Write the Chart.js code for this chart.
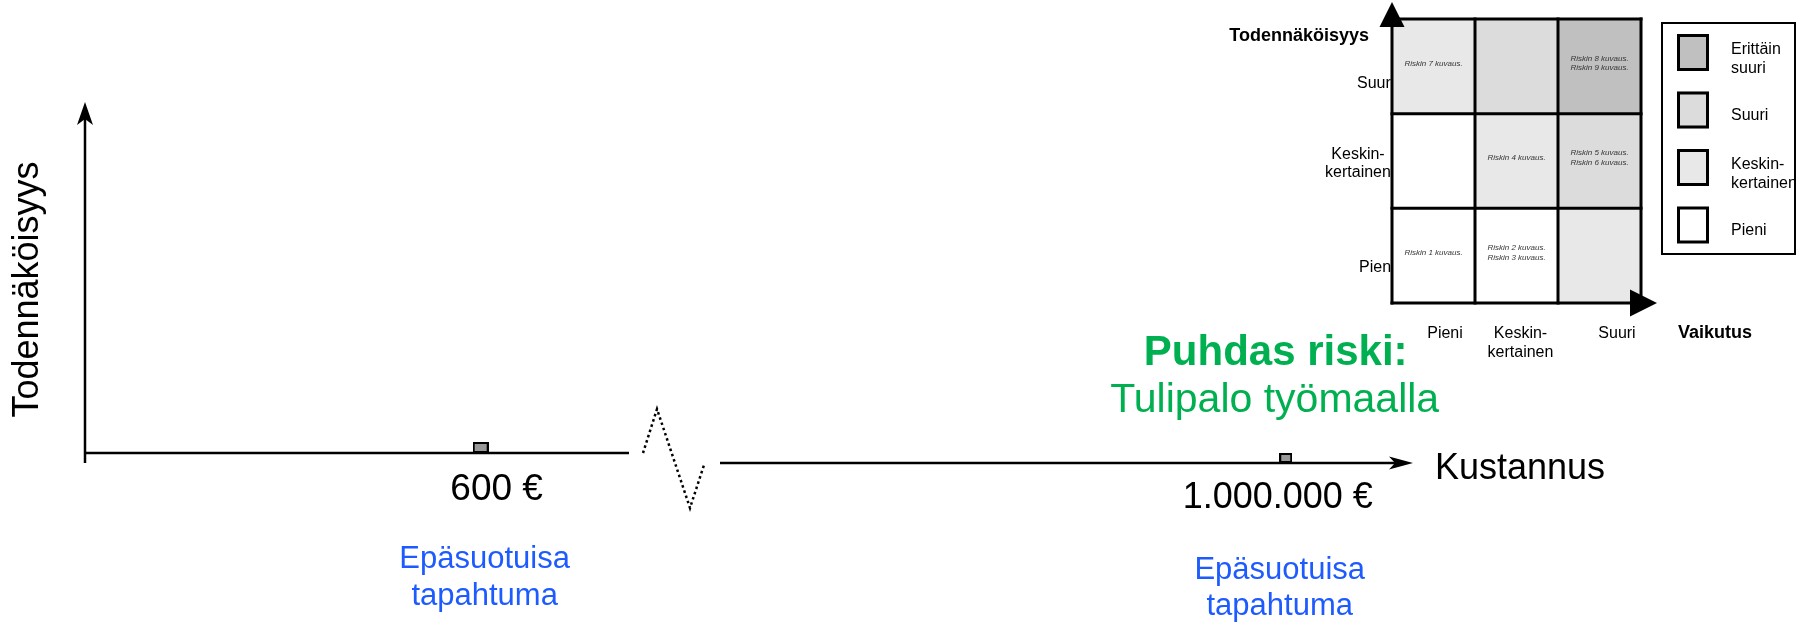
<!DOCTYPE html>
<html>
<head>
<meta charset="utf-8">
<script src="https://cdn.jsdelivr.net/npm/chart.js@4.4.0/dist/chart.umd.min.js"></script>
<style>
  html, body { margin: 0; padding: 0; background: #ffffff; }
  #wrap { position: relative; width: 1797px; height: 624px; overflow: hidden; background: #ffffff; }
  #wrap canvas { position: absolute; }
</style>
</head>
<body>
<div id="wrap">
  <canvas id="cLeft" width="700" height="624" style="left:0px;top:0px;width:700px;height:624px"></canvas>
  <canvas id="cRight" width="1100" height="324" style="left:560px;top:300px;width:1100px;height:324px"></canvas>
  <canvas id="cMatrix" width="617" height="370" style="left:1180px;top:0px;width:617px;height:370px"></canvas>
</div>
<script>
// ---------------- DATA ----------------
const probabilityTitle = 'Todennäköisyys';
const costTitle = 'Kustannus';
const smallEventCost = [600];
const smallEventLabels = ['600 €'];
const largeEventCost = [1000000];
const largeEventLabels = ['1.000.000 €'];
const eventTypeLines = ['Epäsuotuisa', 'tapahtuma'];
const riskTitle = 'Puhdas riski:';
const riskName = 'Tulipalo työmaalla';

const impactTitle = 'Vaikutus';
const impactCategories = ['Pieni', 'Keskinkertainen', 'Suuri'];
const impactTickLabels = [['Pieni'], ['Keskin-', 'kertainen'], ['Suuri']];
const probabilityCategories = ['Pieni', 'Keskinkertainen', 'Suuri'];
const probabilityTickLabels = [['Pieni'], ['Keskin-', 'kertainen'], ['Suuri']];
// one unit per matrix cell, rows = probability (Pieni..Suuri), columns = impact
const cellUnits = [[1, 1, 1], [1, 1, 1], [1, 1, 1]];
// risk level of each cell: 0 Pieni, 1 Keskinkertainen, 2 Suuri, 3 Erittäin suuri
const riskLevels = [[0, 0, 1], [0, 1, 2], [1, 2, 3]];
const riskTexts = [
  [['Riskin 1 kuvaus.'], ['Riskin 2 kuvaus.', 'Riskin 3 kuvaus.'], []],
  [[], ['Riskin 4 kuvaus.'], ['Riskin 5 kuvaus.', 'Riskin 6 kuvaus.']],
  [['Riskin 7 kuvaus.'], [], ['Riskin 8 kuvaus.', 'Riskin 9 kuvaus.']]
];
const levelLegendLabels = [['Pieni'], ['Keskin-', 'kertainen'], ['Suuri'], ['Erittäin', 'suuri']];

// ---------------- STYLE ----------------
const FONT = "'Liberation Sans', Arial, Helvetica, sans-serif";
const levelFill = ['#ffffff', '#e8e8e8', '#dcdcdc', '#c0c0c0'];
const GREEN = '#00b050';
const BLUE = '#1e5bff';
Chart.defaults.font.family = FONT;

function makeMarker(w, h) {
  const c = document.createElement('canvas');
  c.width = w; c.height = h * 2;
  const g = c.getContext('2d');
  g.fillStyle = '#999999'; g.fillRect(0, 0, w, h);
  g.strokeStyle = '#000000'; g.lineWidth = 2; g.strokeRect(1, 1, w - 2, h - 2);
  return c;
}

function classicArrow(ctx, x, y, dx, dy, len, half, notch) {
  const px = -dy, py = dx;
  const bx = x - dx * len, by = y - dy * len;
  ctx.beginPath();
  ctx.moveTo(x, y);
  ctx.lineTo(bx + px * half, by + py * half);
  ctx.lineTo(x - dx * (len - notch), y - dy * (len - notch));
  ctx.lineTo(bx - px * half, by - py * half);
  ctx.closePath();
  ctx.fill();
}

function makeCostDecor(cfg) {
  return {
    id: 'costDecor',
    beforeDatasetsDraw(chart) {
      const ctx = chart.ctx, a = chart.chartArea;
      ctx.save();
      ctx.strokeStyle = '#000'; ctx.fillStyle = '#000'; ctx.lineWidth = 2.5;
      ctx.beginPath();
      ctx.moveTo(a.left, a.bottom);
      ctx.lineTo(cfg.arrowX ? a.right - 18 : a.right, a.bottom);
      ctx.stroke();
      if (cfg.arrowX) classicArrow(ctx, a.right, a.bottom, 1, 0, 24, 6.5, 6);
      if (cfg.yAxis) {
        ctx.beginPath();
        ctx.moveTo(a.left, a.bottom + 10);
        ctx.lineTo(a.left, a.top + 17);
        ctx.stroke();
        classicArrow(ctx, a.left, a.top, 0, -1, 23, 8, 6);
      }
      if (cfg.breakMark) {
        ctx.setLineDash([2.5, 3]);
        ctx.lineWidth = 2.5;
        ctx.beginPath();
        cfg.breakMark.forEach((p, i) => {
          const x = a.left + p[0], y = a.bottom + p[1];
          if (i === 0) ctx.moveTo(x, y); else ctx.lineTo(x, y);
        });
        ctx.stroke();
      }
      ctx.restore();
    },
    afterDatasetsDraw(chart) {
      const ctx = chart.ctx, a = chart.chartArea;
      const pt = chart.getDatasetMeta(0).data[0];
      ctx.save();
      ctx.textBaseline = 'alphabetic';
      // value label
      ctx.fillStyle = '#000';
      ctx.textAlign = 'center';
      ctx.font = cfg.valueFont + 'px ' + FONT;
      ctx.fillText(cfg.valueLabels[0], pt.x + cfg.valueDx, a.bottom + cfg.valueDy);
      // event type
      ctx.fillStyle = BLUE;
      ctx.font = '31px ' + FONT;
      eventTypeLines.forEach((t, i) => ctx.fillText(t, pt.x + cfg.eventDx, a.bottom + cfg.eventDy[i]));
      if (cfg.yAxis) {
        ctx.save();
        ctx.fillStyle = '#000';
        ctx.font = '36px ' + FONT;
        ctx.translate(a.left - 47, (a.top + a.bottom) / 2 + 12);
        ctx.rotate(-Math.PI / 2);
        ctx.textAlign = 'center';
        ctx.fillText(probabilityTitle, 0, 0);
        ctx.restore();
      }
      if (cfg.arrowX) {
        ctx.fillStyle = '#000';
        ctx.font = '36px ' + FONT;
        ctx.textAlign = 'left';
        ctx.fillText(costTitle, a.right + 22, a.bottom + 16);
      }
      if (cfg.riskTitle) {
        ctx.fillStyle = GREEN;
        ctx.textAlign = 'center';
        ctx.font = 'bold 42px ' + FONT;
        ctx.fillText(riskTitle, pt.x - 10, a.bottom - 98);
        ctx.font = '41px ' + FONT;
        ctx.fillText(riskName, pt.x - 11, a.bottom - 51);
      }
      ctx.restore();
    }
  };
}

function costChart(id, values, markerW, markerH, xMax, padding, cfg) {
  return new Chart(document.getElementById(id), {
    type: 'scatter',
    data: {
      datasets: [{
        data: values.map(v => ({ x: v, y: 0 })),
        pointStyle: makeMarker(markerW, markerH),
        pointRadius: 6,
        showLine: false
      }]
    },
    options: {
      responsive: false, animation: false, devicePixelRatio: 1,
      layout: { autoPadding: false, padding: padding },
      scales: {
        x: { type: 'linear', display: false, min: 0, max: xMax },
        y: { type: 'linear', display: false, min: 0, max: 1 }
      },
      plugins: { legend: { display: false }, tooltip: { enabled: false } },
      events: []
    },
    plugins: [makeCostDecor(cfg)]
  });
}

costChart('cLeft', smallEventCost, 16, 11, 825,
  { left: 85, top: 102, right: 71, bottom: 171 },
  { yAxis: true, arrowX: false, valueLabels: smallEventLabels, valueFont: 37, valueDx: 16, valueDy: 47,
    eventDx: 4, eventDy: [115, 152] });

costChart('cRight', largeEventCost, 13, 10, 1225000,
  { left: 160, top: 120, right: 247, bottom: 161 },
  { yAxis: false, arrowX: true, valueLabels: largeEventLabels, valueFont: 36, valueDx: -8, valueDy: 45,
    eventDx: -6, eventDy: [116, 152], riskTitle: true,
    breakMark: [[-77, -10], [-63, -54], [-30, 45], [-16, 2]] });

// ---------------- RISK MATRIX ----------------
const probLabelLayout = [
  { align: 'left', dx: -33, dy: 16 },
  { align: 'center', dx: -34, dy: -2.5 },
  { align: 'left', dx: -35, dy: 22 }
];
const impactLabelDx = [11.5, 4, 17.5];

const matrixDecor = {
  id: 'matrixDecor',
  beforeDatasetsDraw(chart) {
    const ctx = chart.ctx, a = chart.chartArea, ys = chart.scales.y;
    ctx.save();
    ctx.fillStyle = '#000';
    ctx.font = '16px ' + FONT;
    ctx.textBaseline = 'alphabetic';
    probabilityTickLabels.forEach((lines, r) => {
      const L = probLabelLayout[r];
      const cy = ys.getPixelForValue(r + 0.5);
      ctx.textAlign = L.align;
      lines.forEach((t, i) => ctx.fillText(t, a.left + L.dx, cy + L.dy + i * 18));
    });
    ctx.restore();
  },
  afterDatasetsDraw(chart) {
    const ctx = chart.ctx, a = chart.chartArea, xs = chart.scales.x, ys = chart.scales.y;
    ctx.save();
    // grid
    ctx.strokeStyle = '#000'; ctx.lineWidth = 3; ctx.lineCap = 'square';
    for (let i = 0; i <= impactCategories.length; i++) {
      const x = xs.getPixelForValue(i - 0.5);
      ctx.beginPath(); ctx.moveTo(x, a.top); ctx.lineTo(x, a.bottom); ctx.stroke();
    }
    for (let j = 0; j <= probabilityCategories.length; j++) {
      const y = ys.getPixelForValue(j);
      ctx.beginPath(); ctx.moveTo(a.left, y); ctx.lineTo(a.right, y); ctx.stroke();
    }
    // arrows
    ctx.fillStyle = '#000';
    ctx.beginPath();
    ctx.moveTo(a.left, a.top - 17); ctx.lineTo(a.left + 12.5, a.top + 8); ctx.lineTo(a.left - 12.5, a.top + 8);
    ctx.closePath(); ctx.fill();
    ctx.beginPath();
    ctx.moveTo(a.right + 16, a.bottom); ctx.lineTo(a.right - 11, a.bottom - 13.5); ctx.lineTo(a.right - 11, a.bottom + 13.5);
    ctx.closePath(); ctx.fill();
    // cell texts
    ctx.fillStyle = '#333333';
    ctx.font = 'italic 8px ' + FONT;
    ctx.textAlign = 'center';
    ctx.textBaseline = 'middle';
    riskTexts.forEach((row, r) => row.forEach((lines, c) => {
      const cx = xs.getPixelForValue(c);
      const cy = ys.getPixelForValue(r + 0.5) - 3;
      const n = lines.length;
      lines.forEach((t, i) => ctx.fillText(t, cx, cy + (i - (n - 1) / 2) * 9.5));
    }));
    // impact tick labels
    ctx.fillStyle = '#000';
    ctx.textBaseline = 'alphabetic';
    ctx.font = '16px ' + FONT;
    impactTickLabels.forEach((lines, c) => {
      const cx = xs.getPixelForValue(c) + impactLabelDx[c];
      lines.forEach((t, i) => ctx.fillText(t, cx, a.bottom + 35 + i * 19));
    });
    // titles
    ctx.font = 'bold 18px ' + FONT;
    ctx.fillText(impactTitle, a.right + 74, a.bottom + 35);
    ctx.textAlign = 'right';
    ctx.fillText(probabilityTitle, a.left - 23, a.top + 22);
    // legend
    const bx = a.right + 20, by = a.top + 3, bw = 135, bh = 233;
    ctx.lineWidth = 2;
    ctx.strokeRect(bx + 1, by + 1, bw - 2, bh - 2);
    ctx.font = '16px ' + FONT;
    ctx.textAlign = 'left';
    const order = [3, 2, 1, 0];
    order.forEach((lvl, k) => {
      const sy = by + 12 + k * 57.5;
      const sx = bx + 16;
      ctx.fillStyle = levelFill[lvl];
      ctx.fillRect(sx, sy, 32, 37);
      ctx.lineWidth = 3;
      ctx.strokeStyle = '#000';
      ctx.strokeRect(sx + 1.5, sy + 1.5, 29, 34);
      ctx.fillStyle = '#000';
      const lines = levelLegendLabels[lvl];
      if (lines.length === 1) {
        ctx.fillText(lines[0], bx + 70, sy + 28);
      } else {
        lines.forEach((t, i) => ctx.fillText(t, bx + 70, sy + 20 + i * 19));
      }
    });
    ctx.restore();
  }
};

new Chart(document.getElementById('cMatrix'), {
  type: 'bar',
  data: {
    labels: impactCategories,
    datasets: probabilityCategories.map((p, r) => ({
      label: p,
      data: cellUnits[r],
      backgroundColor: riskLevels[r].map(l => levelFill[l]),
      borderWidth: 0,
      barPercentage: 1,
      categoryPercentage: 1,
      stack: 'matrix'
    }))
  },
  options: {
    responsive: false, animation: false, devicePixelRatio: 1,
    layout: { autoPadding: false, padding: { left: 212, top: 19, right: 156, bottom: 67 } },
    scales: {
      x: { type: 'category', display: false, offset: true, stacked: true },
      y: { type: 'linear', display: false, stacked: true, min: 0, max: 3 }
    },
    plugins: { legend: { display: false }, tooltip: { enabled: false } },
    events: []
  },
  plugins: [matrixDecor]
});
</script>
</body>
</html>
